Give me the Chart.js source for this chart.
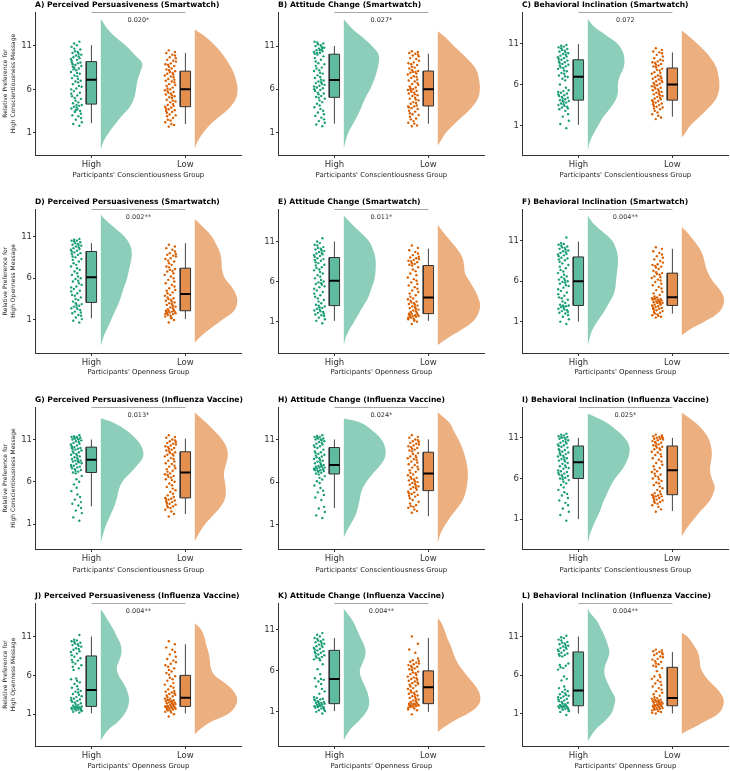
<!DOCTYPE html>
<html><head><meta charset="utf-8">
<script src="https://cdn.jsdelivr.net/npm/chart.js@4/dist/chart.umd.min.js"></script>
<style>
html,body{margin:0;padding:0;background:#fff;}
#wrap{position:relative;width:730px;height:771px;overflow:hidden;background:#fff;}
#wrap canvas{position:absolute;}
</style>
</head><body><div id="wrap"></div>
<script>
// ---------- categories / labels ----------
const groups = ['High', 'Low'];
const yTickValues = [1, 6, 11];
const panelTitles = [
  'A) Perceived Persuasiveness (Smartwatch)', 'B) Attitude Change (Smartwatch)', 'C) Behavioral Inclination (Smartwatch)',
  'D) Perceived Persuasiveness (Smartwatch)', 'E) Attitude Change (Smartwatch)', 'F) Behavioral Inclination (Smartwatch)',
  'G) Perceived Persuasiveness (Influenza Vaccine)', 'H) Attitude Change (Influenza Vaccine)', 'I) Behavioral Inclination (Influenza Vaccine)',
  'J) Perceived Persuasiveness (Influenza Vaccine)', 'K) Attitude Change (Influenza Vaccine)', 'L) Behavioral Inclination (Influenza Vaccine)'
];
const pLabels = ['0.020*', '0.027*', '0.072', '0.002**', '0.011*', '0.004**', '0.013*', '0.024*', '0.025*', '0.004**', '0.004**', '0.004**'];
const xTitles = ["Participants' Conscientiousness Group", "Participants' Openness Group"];
const yTitles = [['Relative Preference for', 'High Conscientiousness Message'], ['Relative Preference for', 'High Openness Message']];

// ---------- data: jittered observations ----------
const A_hi_pts = [1.8,2.0,2.2,2.5,2.7,2.9,3.0,3.2,3.4,3.5,3.7,3.8,3.9,4.0,4.1,4.2,4.2,3.6,4.4,4.5,4.7,4.9,5.0,5.2,5.3,5.5,5.6,5.8,6.0,6.1,6.3,6.4,6.6,6.8,6.9,7.0,7.2,7.3,7.5,7.6,7.8,7.9,8.0,8.2,8.3,8.4,8.6,8.7,8.8,8.9,9.0,9.1,9.1,8.5,9.3,9.4,9.5,9.6,9.7,9.8,9.9,10.0,10.1,10.2,10.3,10.4,10.6,10.7,10.9,11.1,11.3,11.5];
const A_lo_pts = [1.7,1.9,2.0,2.2,2.4,2.5,2.7,2.9,3.0,3.1,3.3,3.4,3.5,3.6,3.7,3.8,3.9,4.0,4.1,4.2,4.3,4.5,4.6,4.7,4.8,5.0,5.1,5.2,5.3,5.4,5.5,5.6,5.7,5.8,5.9,6.0,6.1,6.2,6.4,6.5,6.6,6.8,6.9,7.0,7.1,7.2,7.4,7.5,7.6,7.7,7.8,7.9,8.0,8.1,8.2,8.3,8.4,8.6,8.7,8.8,8.9,9.0,9.2,9.3,9.4,9.6,9.7,9.9,10.0,10.2,10.3,10.5];
const B_hi_pts = [1.7,1.9,2.1,2.3,2.5,2.7,2.9,3.1,3.3,3.5,3.7,3.9,4.1,4.3,4.5,4.7,4.9,5.0,5.1,5.2,5.4,5.5,5.6,5.8,5.9,6.0,6.1,6.2,6.3,6.4,6.5,6.6,6.7,6.8,6.9,7.0,7.1,7.3,7.4,7.6,7.8,7.9,8.1,8.2,8.4,8.5,8.7,8.9,9.0,9.2,9.4,9.6,9.8,10.0,10.1,10.2,10.3,10.4,10.5,10.6,10.7,10.8,10.9,11.0,11.1,11.2,11.3,11.4,11.5,10.5,10.2,10.8];
const B_lo_pts = [1.7,1.8,2.0,2.1,2.3,2.5,2.6,2.8,3.0,3.1,3.2,3.4,3.5,3.7,3.8,3.9,4.0,4.0,4.1,4.3,4.4,4.5,4.7,4.8,4.9,5.0,5.2,5.3,5.4,5.5,5.6,5.7,5.8,5.9,5.9,6.0,6.1,6.2,6.3,6.5,6.6,6.7,6.9,7.0,7.1,7.3,7.4,7.5,7.7,7.8,7.9,8.0,8.0,8.1,8.2,8.4,8.5,8.6,8.8,8.9,9.0,9.1,9.3,9.5,9.6,9.8,9.9,10.0,10.1,10.2,10.3,10.4];
const C_hi_pts = [0.7,1.2,1.6,2.1,2.4,2.8,3.0,3.1,3.2,3.3,3.4,3.5,3.6,3.7,3.8,3.9,4.0,4.0,4.1,4.2,4.3,4.4,4.5,4.6,4.7,4.8,4.9,5.0,5.1,5.2,5.3,5.6,6.0,6.5,6.7,6.9,7.0,7.1,7.3,7.4,7.6,7.7,7.9,8.0,8.1,8.2,8.3,8.4,8.5,8.6,8.7,8.8,8.9,9.0,9.1,9.2,9.3,9.4,9.5,9.6,9.7,9.8,9.9,10.0,10.1,10.2,10.3,10.4,10.5,10.6,10.7,10.8];
const C_lo_pts = [1.8,2.0,2.2,2.4,2.6,2.8,3.0,3.1,3.2,3.3,3.4,3.5,3.6,3.7,3.8,3.9,4.0,4.1,4.2,4.3,4.4,4.5,4.6,4.7,4.8,4.9,5.0,5.1,5.2,5.3,5.4,5.5,5.6,5.7,5.8,5.9,6.0,6.1,6.2,6.3,6.4,6.5,6.6,6.7,6.8,6.9,7.0,7.1,7.3,7.4,7.5,7.7,7.8,7.9,8.1,8.2,8.3,8.4,8.5,8.6,8.7,8.8,8.9,9.0,9.2,9.4,9.6,9.8,9.9,10.0,10.2,10.4];
const D_hi_pts = [0.7,0.9,1.1,1.3,1.5,1.6,1.8,1.9,2.0,2.2,2.3,2.4,2.5,2.6,2.7,2.8,2.9,3.0,3.2,3.4,3.5,3.7,3.9,4.0,4.2,4.4,4.5,4.7,4.9,5.0,5.2,5.4,5.6,5.7,5.9,6.0,6.2,6.4,6.6,6.8,7.0,7.2,7.4,7.6,7.8,8.0,8.2,8.3,8.5,8.6,8.8,8.9,9.0,9.1,9.2,9.3,9.4,9.5,9.6,9.7,9.8,9.9,10.0,10.0,10.1,10.2,10.3,10.4,10.5,10.5,10.6,10.7];
const D_lo_pts = [0.7,1.0,1.2,1.4,1.5,1.6,1.7,1.8,1.8,1.9,1.9,2.0,2.0,2.0,2.1,2.1,1.3,1.7,2.2,2.3,2.4,2.5,2.6,2.7,2.8,2.9,3.0,3.1,3.2,3.3,3.4,3.5,3.6,3.7,3.9,4.0,4.2,4.3,4.5,4.6,4.8,5.0,5.2,5.4,5.6,5.8,6.0,6.2,6.4,6.6,6.8,6.9,7.0,7.1,7.3,7.4,7.6,7.8,8.0,8.1,8.3,8.4,8.6,8.7,8.8,8.9,9.0,9.2,9.4,9.6,9.8,10.0];
const E_hi_pts = [0.8,1.1,1.3,1.5,1.7,1.8,1.9,2.0,2.1,2.2,2.3,2.4,2.5,2.6,2.7,2.8,2.9,3.0,3.1,3.3,3.5,3.7,3.9,4.1,4.3,4.5,4.7,4.9,5.1,5.3,5.4,5.6,5.7,5.8,5.9,6.0,6.2,6.4,6.6,6.8,7.0,7.2,7.4,7.5,7.7,7.8,8.0,8.1,8.3,8.4,8.6,8.7,8.8,8.9,9.1,9.2,9.3,9.4,9.5,9.6,9.7,9.8,9.9,10.0,10.1,10.2,10.3,10.5,10.6,10.8,11.0,11.4];
const E_lo_pts = [0.7,1.0,1.2,1.3,1.4,1.5,1.6,1.6,1.7,1.7,1.8,1.8,1.9,1.9,2.0,2.0,1.1,1.5,2.1,2.2,2.3,2.4,2.5,2.6,2.7,2.8,2.9,3.0,3.1,3.2,3.3,3.4,3.5,3.6,3.8,3.9,4.1,4.3,4.5,4.7,4.9,5.1,5.3,5.5,5.7,5.9,6.1,6.3,6.5,6.8,7.0,7.3,7.5,7.8,8.0,8.1,8.2,8.3,8.4,8.5,8.6,8.7,8.8,8.9,9.0,9.1,9.3,9.5,9.7,9.9,10.2,10.5];
const F_hi_pts = [0.7,1.0,1.3,1.6,1.8,2.0,2.1,2.2,2.3,2.4,2.5,2.6,2.7,2.8,2.9,2.9,3.0,3.0,3.1,3.3,3.5,3.7,3.9,4.0,4.2,4.4,4.6,4.8,5.0,5.2,5.4,5.5,5.7,5.8,5.9,6.0,6.1,6.2,6.3,6.5,6.6,6.8,7.0,7.2,7.4,7.6,7.8,8.0,8.2,8.4,8.6,8.7,8.8,8.9,9.1,9.2,9.3,9.4,9.5,9.6,9.7,9.8,9.9,10.0,10.1,10.2,10.3,10.4,10.5,10.6,10.7,11.4];
const F_lo_pts = [1.5,1.6,1.7,1.8,1.9,2.0,2.1,2.2,2.3,2.4,2.5,2.6,2.6,2.7,2.8,2.8,2.9,3.0,3.1,3.1,3.2,3.3,3.3,3.4,3.4,3.5,3.5,3.6,3.6,3.7,3.7,3.8,3.8,3.9,3.9,4.0,4.1,4.3,4.5,4.7,4.9,5.1,5.3,5.5,5.7,5.9,6.1,6.2,6.4,6.5,6.6,6.8,6.9,7.0,7.1,7.3,7.5,7.7,7.8,7.9,8.0,8.1,8.3,8.5,8.7,8.9,9.1,9.3,9.5,9.7,10.0,10.2];
const G_hi_pts = [1.4,1.8,2.3,2.6,2.9,3.2,3.4,3.6,3.9,4.2,4.5,4.9,5.3,5.7,6.0,6.3,6.7,7.0,7.1,7.2,7.3,7.4,7.5,7.6,7.7,7.8,7.8,7.9,8.0,8.1,8.2,8.3,8.4,8.4,8.5,8.5,8.6,8.7,8.8,8.9,9.0,9.1,9.2,9.3,9.4,9.5,9.6,9.7,9.8,9.9,9.9,10.0,10.0,10.1,10.2,10.3,10.4,10.5,10.6,10.7,10.8,10.9,11.0,11.0,11.1,11.1,11.2,11.2,11.3,11.3,11.4,11.5];
const G_lo_pts = [1.9,2.2,2.5,2.7,2.9,3.0,3.1,3.2,3.3,3.4,3.5,3.6,3.7,3.8,3.9,4.0,4.0,4.1,4.2,4.4,4.6,4.8,5.0,5.2,5.4,5.6,5.8,6.0,6.2,6.3,6.5,6.6,6.7,6.8,6.9,7.0,7.2,7.3,7.5,7.6,7.8,7.9,8.1,8.2,8.4,8.5,8.7,8.8,9.0,9.1,9.2,9.3,9.4,9.5,9.6,9.7,9.8,9.9,10.0,10.1,10.2,10.3,10.4,10.5,10.6,10.7,10.8,10.9,11.0,11.2,11.3,11.5];
const H_hi_pts = [1.8,2.1,2.5,2.9,3.1,3.9,4.2,4.5,4.8,5.0,5.3,5.6,5.9,6.1,6.3,6.5,6.7,6.9,7.0,7.1,7.2,7.3,7.3,7.4,7.4,7.5,7.5,7.6,7.6,7.7,7.7,7.8,7.8,7.9,7.9,8.0,8.1,8.2,8.3,8.4,8.5,8.6,8.7,8.8,8.9,9.0,9.1,9.2,9.3,9.4,9.5,9.6,9.8,10.0,10.1,10.2,10.3,10.4,10.5,10.6,10.7,10.8,10.9,11.0,11.0,11.1,11.1,11.2,11.3,11.3,11.4,11.5];
const H_lo_pts = [2.4,2.6,2.8,3.0,3.1,3.2,3.3,3.5,3.7,3.9,4.1,4.3,4.4,4.5,4.6,4.7,4.8,4.9,5.1,5.2,5.3,5.4,5.5,5.6,5.7,5.8,5.9,6.0,6.1,6.2,6.3,6.4,6.5,6.6,6.8,6.9,7.1,7.2,7.4,7.5,7.7,7.8,8.0,8.1,8.3,8.4,8.6,8.7,8.8,8.9,9.0,9.1,9.3,9.4,9.6,9.7,9.8,9.9,10.0,10.1,10.2,10.3,10.4,10.5,10.6,10.7,10.8,10.9,11.0,11.2,11.3,11.5];
const I_hi_pts = [0.8,1.5,1.9,2.3,2.7,3.0,3.3,3.6,3.9,4.1,4.3,4.6,4.9,5.2,5.4,5.6,5.8,5.9,6.0,6.1,6.2,6.3,6.4,6.5,6.6,6.7,6.8,6.9,7.0,7.2,7.3,7.4,7.5,7.6,7.8,7.9,8.1,8.2,8.3,8.4,8.5,8.6,8.7,8.8,8.9,9.0,9.1,9.2,9.3,9.4,9.5,9.6,9.8,9.9,10.0,10.1,10.2,10.3,10.4,10.5,10.6,10.7,10.8,10.9,11.0,11.0,11.1,11.1,11.2,11.3,11.4,11.5];
const I_lo_pts = [1.9,2.2,2.5,2.7,2.9,3.0,3.1,3.2,3.3,3.4,3.5,3.6,3.7,3.8,3.8,3.9,3.9,4.0,4.1,4.2,4.4,4.6,4.8,5.0,5.2,5.4,5.5,5.7,5.9,6.0,6.2,6.3,6.5,6.6,6.8,6.9,7.1,7.3,7.5,7.7,7.9,8.1,8.3,8.5,8.7,8.9,9.0,9.2,9.3,9.5,9.6,9.7,9.8,9.9,10.0,10.1,10.2,10.3,10.4,10.5,10.6,10.7,10.8,10.9,10.9,11.0,11.0,11.1,11.1,11.2,11.3,11.4];
const J_hi_pts = [1.2,1.3,1.4,1.5,1.5,1.6,1.6,1.7,1.7,1.8,1.8,1.8,1.9,1.9,1.9,2.0,2.0,2.0,2.1,2.2,2.3,2.4,2.5,2.6,2.7,2.8,2.9,3.0,3.1,3.2,3.3,3.5,3.6,3.8,3.9,4.0,4.2,4.4,4.6,4.9,5.1,5.3,5.5,5.6,6.7,6.9,7.1,7.3,7.5,7.7,7.9,8.0,8.2,8.4,8.6,8.8,9.0,9.1,9.3,9.4,9.5,9.7,9.8,9.9,10.0,10.1,10.2,10.3,10.4,10.5,10.6,11.2];
const J_lo_pts = [0.7,1.0,1.2,1.3,1.4,1.5,1.6,1.6,1.7,1.7,1.8,1.8,1.9,1.9,1.9,2.0,2.0,2.0,2.1,2.1,2.2,2.2,2.3,2.3,2.4,2.4,2.5,2.5,2.6,2.7,2.7,2.8,2.8,2.9,3.0,3.0,3.2,3.3,3.4,3.5,3.6,3.7,3.8,3.9,4.0,4.2,4.4,4.6,4.8,5.0,5.3,5.5,5.7,5.9,6.1,6.3,6.5,6.7,6.9,7.1,7.3,7.5,7.7,7.9,8.1,8.4,8.7,9.0,9.3,9.6,10.0,10.4];
const K_hi_pts = [0.8,1.0,1.1,1.2,1.3,1.4,1.5,1.5,1.6,1.6,1.7,1.7,1.8,1.8,1.9,1.9,2.0,2.0,2.1,2.1,2.2,2.2,2.3,2.4,2.5,2.5,2.6,2.7,2.8,3.2,3.5,3.8,4.1,4.4,4.7,4.9,5.0,5.1,5.6,6.2,6.8,7.3,7.4,7.5,7.6,7.7,7.8,7.9,8.0,8.1,8.2,8.3,8.4,8.5,8.6,8.7,8.8,8.9,9.0,9.1,9.2,9.3,9.4,9.5,9.6,9.7,9.8,9.9,10.0,10.2,10.4,10.6];
const K_lo_pts = [0.7,1.2,1.4,1.5,1.6,1.6,1.7,1.7,1.8,1.8,1.8,1.9,1.9,1.9,2.0,2.0,2.0,1.3,2.1,2.2,2.3,2.4,2.5,2.6,2.7,2.8,2.9,3.0,3.1,3.2,3.3,3.4,3.5,3.6,3.8,3.9,4.1,4.2,4.3,4.4,4.5,4.6,4.7,4.8,4.9,5.0,5.1,5.2,5.3,5.5,5.6,5.7,5.8,5.9,6.1,6.2,6.3,6.4,6.5,6.6,6.7,6.8,6.9,7.0,7.1,7.2,7.3,7.5,8.2,8.6,9.3,10.2];
const L_hi_pts = [0.8,1.2,1.4,1.5,1.6,1.6,1.7,1.7,1.8,1.8,1.9,1.9,1.9,2.0,2.0,2.0,1.3,1.5,2.1,2.2,2.3,2.4,2.5,2.6,2.7,2.8,2.9,3.0,3.1,3.2,3.3,3.4,3.5,3.6,3.8,3.9,4.1,4.3,4.5,5.3,5.5,5.8,6.7,6.9,7.0,7.2,7.3,7.5,8.4,8.5,8.6,8.7,8.8,8.9,9.1,9.2,9.3,9.4,9.5,9.6,9.7,9.8,9.9,10.0,10.1,10.2,10.3,10.5,10.6,10.8,10.9,11.1];
const L_lo_pts = [1.0,1.2,1.3,1.4,1.5,1.5,1.6,1.6,1.7,1.7,1.8,1.8,1.9,1.9,2.0,2.0,2.0,1.1,2.1,2.1,2.2,2.2,2.3,2.3,2.4,2.4,2.5,2.5,2.6,2.6,2.7,2.7,2.8,2.8,2.9,3.0,3.1,3.3,3.5,3.7,3.9,4.1,4.3,4.5,4.7,4.9,5.1,5.3,5.5,5.7,5.8,6.0,6.5,6.9,7.1,7.2,7.4,7.5,7.7,7.8,8.0,8.1,8.3,8.4,8.6,8.7,8.8,8.9,9.0,9.1,9.2,9.3];

// ---------- data: box statistics [lower whisker, Q1, median, Q3, upper whisker] ----------
const A_hi_box = [2.1, 4.3, 7.1, 9.2, 11.1];
const A_lo_box = [2.0, 4.0, 6.0, 8.1, 10.2];
const B_hi_box = [2.0, 5.05, 7.05, 10.05, 11.0];
const B_lo_box = [2.0, 4.05, 6.0, 8.1, 10.1];
const C_hi_box = [1.1, 4.1, 6.95, 9.0, 10.9];
const C_lo_box = [2.1, 4.1, 6.0, 8.0, 9.9];
const D_hi_box = [1.2, 3.1, 6.1, 9.2, 10.2];
const D_lo_box = [1.1, 2.1, 4.1, 7.2, 10.2];
const E_hi_box = [1.1, 3.0, 6.1, 9.0, 11.0];
const E_lo_box = [1.1, 2.0, 4.0, 8.0, 10.1];
const F_hi_box = [1.0, 3.0, 6.0, 9.0, 10.9];
const F_lo_box = [2.0, 3.0, 4.0, 7.0, 10.0];
const G_hi_box = [3.1, 7.1, 8.6, 10.1, 11.0];
const G_lo_box = [2.2, 4.1, 7.1, 9.55, 11.1];
const H_hi_box = [2.95, 6.95, 8.0, 10.05, 11.0];
const H_lo_box = [2.0, 5.0, 7.0, 9.5, 11.0];
const I_hi_box = [1.0, 6.0, 8.0, 10.0, 11.0];
const I_lo_box = [2.0, 4.0, 7.0, 10.0, 11.0];
const J_hi_box = [1.1, 2.0, 4.1, 8.5, 11.0];
const J_lo_box = [1.1, 2.0, 3.1, 6.0, 10.0];
const K_hi_box = [1.1, 2.0, 5.0, 8.5, 10.0];
const K_lo_box = [1.0, 2.0, 4.0, 6.0, 10.0];
const L_hi_box = [1.0, 2.0, 4.0, 9.0, 11.0];
const L_lo_box = [1.0, 2.0, 3.0, 7.0, 9.0];

// ---------- data: half-violin density profile [value, relative width] ----------
const A_hi_vio = [[14.1,0],[13,0.07],[12,0.16],[11,0.27],[10,0.36],[9,0.44],[8,0.42],[7,0.39],[6,0.375],[5,0.355],[4,0.31],[3,0.23],[2,0.155],[1,0.085],[0,0.03],[-0.95,0]];
const A_lo_vio = [[12.9,0],[12,0.12],[11,0.22],[10,0.3],[9,0.36],[8,0.41],[7,0.44],[6,0.455],[5,0.44],[4,0.38],[3,0.28],[2,0.17],[1,0.09],[0,0.03],[-0.75,0]];
const B_hi_vio = [[14.1,0],[13,0.09],[12,0.2],[11,0.3],[10,0.37],[9,0.37],[8,0.35],[7,0.32],[6,0.28],[5,0.23],[4,0.19],[3,0.15],[2,0.1],[1,0.05],[0,0.02],[-0.9,0]];
const B_lo_vio = [[12.7,0],[12,0.08],[11,0.17],[10,0.27],[9,0.36],[8,0.42],[7,0.44],[6,0.447],[5,0.43],[4,0.37],[3,0.28],[2,0.18],[1,0.09],[0,0.03],[-0.5,0]];
const C_hi_vio = [[13.96,0],[13,0.07],[12,0.19],[11,0.31],[10,0.37],[9,0.39],[8,0.38],[7,0.34],[6,0.32],[5,0.32],[4,0.29],[3,0.23],[2,0.16],[1,0.11],[0,0.06],[-1,0.02],[-1.96,0]];
const C_lo_vio = [[12.54,0],[12,0.06],[11,0.16],[10,0.25],[9,0.32],[8,0.37],[7,0.39],[6,0.4],[5,0.39],[4,0.35],[3,0.27],[2,0.18],[1,0.09],[0,0.03],[-0.42,0]];
const D_hi_vio = [[13.6,0],[13,0.05],[12,0.15],[11,0.25],[10,0.31],[9,0.33],[8,0.32],[7,0.3],[6,0.28],[5,0.25],[4,0.22],[3,0.19],[2,0.15],[1,0.11],[0,0.07],[-1,0.03],[-2.1,0]];
const D_lo_vio = [[13.1,0],[12,0.1],[11,0.18],[10,0.23],[9,0.27],[8,0.285],[7,0.29],[6,0.32],[5,0.39],[4,0.44],[3,0.45],[2,0.41],[1,0.29],[0,0.17],[-1,0.06],[-1.7,0]];
const E_hi_vio = [[14.2,0],[13,0.1],[12,0.19],[11,0.27],[10,0.31],[9,0.335],[8,0.34],[7,0.335],[6,0.32],[5,0.29],[4,0.26],[3,0.21],[2,0.16],[1,0.11],[0,0.06],[-1,0.02],[-2,0]];
const E_lo_vio = [[13.1,0],[12,0.07],[11,0.14],[10,0.21],[9,0.26],[8,0.28],[7,0.29],[6,0.34],[5,0.39],[4,0.43],[3,0.45],[2,0.43],[1,0.37],[0,0.25],[-1,0.11],[-1.9,0]];
const F_hi_vio = [[14.1,0],[13,0.07],[12,0.17],[11,0.26],[10,0.3],[9,0.32],[8,0.32],[7,0.31],[6,0.3],[5,0.29],[4,0.26],[3,0.21],[2,0.16],[1,0.1],[0,0.05],[-1,0.02],[-2,0]];
const F_lo_vio = [[12.7,0],[12,0.06],[11,0.13],[10,0.19],[9,0.23],[8,0.25],[7,0.28],[6,0.33],[5,0.4],[4,0.445],[3,0.44],[2,0.38],[1,0.24],[0,0.08],[-0.7,0]];
const G_hi_vio = [[13.5,0],[13,0.13],[12,0.28],[11,0.38],[10,0.44],[9,0.45],[8,0.39],[7,0.31],[6,0.23],[5,0.19],[4,0.17],[3,0.14],[2,0.1],[1,0.06],[0,0.03],[-1.2,0]];
const G_lo_vio = [[14.2,0],[13,0.12],[12,0.21],[11,0.29],[10,0.34],[9,0.35],[8,0.33],[7,0.31],[6,0.32],[5,0.33],[4,0.32],[3,0.27],[2,0.19],[1,0.11],[0,0.05],[-1,0]];
const H_hi_vio = [[13.45,0],[13,0.17],[12,0.31],[11,0.4],[10,0.44],[9,0.44],[8,0.39],[7,0.31],[6,0.24],[5,0.19],[4,0.17],[3,0.15],[2,0.12],[1,0.07],[0,0.02],[-0.56,0]];
const H_lo_vio = [[14.15,0],[13,0.12],[12,0.17],[11,0.22],[10,0.26],[9,0.29],[8,0.31],[7,0.32],[6,0.315],[5,0.3],[4,0.27],[3,0.21],[2,0.14],[1,0.08],[0,0.03],[-1.14,0]];
const I_hi_vio = [[14,0],[13,0.18],[12,0.3],[11,0.39],[10,0.44],[9,0.44],[8,0.41],[7,0.36],[6,0.29],[5,0.24],[4,0.2],[3,0.16],[2,0.13],[1,0.09],[0,0.05],[-1,0.02],[-1.94,0]];
const I_lo_vio = [[14.1,0],[13,0.13],[12,0.22],[11,0.28],[10,0.31],[9,0.32],[8,0.31],[7,0.3],[6,0.32],[5,0.35],[4,0.33],[3,0.28],[2,0.2],[1,0.13],[0,0.06],[-1.1,0]];
const J_hi_vio = [[14.5,0],[14,0.03],[13,0.08],[12,0.13],[11,0.17],[10,0.21],[9,0.22],[8,0.2],[7,0.17],[6,0.19],[5,0.24],[4,0.28],[3,0.3],[2,0.29],[1,0.25],[0,0.18],[-1,0.08],[-2,0.02],[-2.4,0]];
const J_lo_vio = [[12.7,0],[12,0.06],[11,0.1],[10,0.12],[9,0.145],[8,0.16],[7,0.17],[6,0.21],[5,0.32],[4,0.41],[3,0.45],[2,0.43],[1,0.35],[0,0.17],[-1,0.05],[-1.6,0]];
const K_hi_vio = [[13.5,0],[13,0.04],[12,0.1],[11,0.14],[10,0.18],[9,0.22],[8,0.23],[7,0.2],[6,0.17],[5,0.19],[4,0.23],[3,0.26],[2,0.27],[1,0.24],[0,0.17],[-1,0.08],[-2,0.02],[-2.47,0]];
const K_lo_vio = [[12.4,0],[12,0.03],[11,0.07],[10,0.1],[9,0.14],[8,0.17],[7,0.21],[6,0.27],[5,0.34],[4,0.41],[3,0.45],[2,0.44],[1,0.35],[0,0.19],[-1,0.05],[-1.45,0]];
const L_hi_vio = [[14.6,0],[14,0.03],[13,0.1],[12,0.14],[11,0.18],[10,0.21],[9,0.23],[8,0.21],[7,0.18],[6,0.18],[5,0.21],[4,0.25],[3,0.29],[2,0.28],[1,0.25],[0,0.18],[-1,0.09],[-2,0.03],[-2.56,0]];
const L_lo_vio = [[11.5,0],[11,0.06],[10,0.12],[9,0.17],[8,0.19],[7,0.2],[6,0.24],[5,0.31],[4,0.39],[3,0.44],[2,0.44],[1,0.39],[0,0.25],[-1,0.1],[-1.6,0]];

// ---------- axis ranges per panel ----------
const yRanges = [[-1.57,14.92],[-1.63,14.94],[-2.56,14.8],[-2.96,14.29],[-2.91,15.05],[-2.88,14.93],[-1.94,14.84],[-1.84,14.8],[-2.68,14.8],[-3.1,15.32],[-3.16,14.27],[-3.23,15.36]];

// ---------- table built from the arrays ----------
const panelGroups = [
  [[A_hi_pts, A_hi_box, A_hi_vio], [A_lo_pts, A_lo_box, A_lo_vio]],
  [[B_hi_pts, B_hi_box, B_hi_vio], [B_lo_pts, B_lo_box, B_lo_vio]],
  [[C_hi_pts, C_hi_box, C_hi_vio], [C_lo_pts, C_lo_box, C_lo_vio]],
  [[D_hi_pts, D_hi_box, D_hi_vio], [D_lo_pts, D_lo_box, D_lo_vio]],
  [[E_hi_pts, E_hi_box, E_hi_vio], [E_lo_pts, E_lo_box, E_lo_vio]],
  [[F_hi_pts, F_hi_box, F_hi_vio], [F_lo_pts, F_lo_box, F_lo_vio]],
  [[G_hi_pts, G_hi_box, G_hi_vio], [G_lo_pts, G_lo_box, G_lo_vio]],
  [[H_hi_pts, H_hi_box, H_hi_vio], [H_lo_pts, H_lo_box, H_lo_vio]],
  [[I_hi_pts, I_hi_box, I_hi_vio], [I_lo_pts, I_lo_box, I_lo_vio]],
  [[J_hi_pts, J_hi_box, J_hi_vio], [J_lo_pts, J_lo_box, J_lo_vio]],
  [[K_hi_pts, K_hi_box, K_hi_vio], [K_lo_pts, K_lo_box, K_lo_vio]],
  [[L_hi_pts, L_hi_box, L_hi_vio], [L_lo_pts, L_lo_box, L_lo_vio]]
];

// ---------- styles & geometry ----------
const palette = [
  {pt: '#1B9E77', box: '#5FBBA0', violin: '#8DCEBB'},
  {pt: '#D95F02', box: '#E48F4E', violin: '#ECAF80'}
];
const colLeft = [0, 243, 487];
const rowTop = [0, 197, 395, 591];
const plotH = [143, 144, 142, 143];
const CW = 243, CH = 179, PAD_TOP = 12, Y_AXIS_W = 35;
const VIOLIN_GAP = 0.1, BOX_HW = 0.055, PT_OFF = 0.16, PT_SPREAD = 0.12;

Chart.defaults.font.family = '"DejaVu Sans", sans-serif';

function jitter(i, g) {
  const h = Math.imul(i + 1 + g * 1013, 2654435761) >>> 0;
  return (h % 1000) / 999 - 0.5;
}

function groupDatasets(g, grp) {
  const [pts, box, vio] = grp;
  const c = g + 1;
  const col = palette[g];
  const vx = c + VIOLIN_GAP;
  const [mn, q1, md, q3, mx] = box;
  return [
    {type: 'line', data: vio.map(([y, w]) => ({x: vx + w, y})), fill: 'shape', backgroundColor: col.violin,
     borderWidth: 0, pointRadius: 0, tension: 0.4, order: 10},
    {type: 'line', data: [{x: c, y: mn}, {x: c, y: mx}], borderColor: '#444', borderWidth: 1, pointRadius: 0, fill: false, order: 9},
    {type: 'line', data: [{x: c - BOX_HW, y: q1}, {x: c + BOX_HW, y: q1}, {x: c + BOX_HW, y: q3}, {x: c - BOX_HW, y: q3}, {x: c - BOX_HW, y: q1}],
     fill: 'shape', backgroundColor: col.box, borderColor: '#333', borderWidth: 1, pointRadius: 0, tension: 0, order: 8},
    {type: 'line', data: [{x: c - BOX_HW, y: md}, {x: c + BOX_HW, y: md}], borderColor: '#000', borderWidth: 2, pointRadius: 0, fill: false, order: 7},
    {type: 'scatter', data: pts.map((y, i) => ({x: c - PT_OFF + jitter(i, g) * PT_SPREAD, y})),
     pointBackgroundColor: col.pt, pointBorderWidth: 0, pointRadius: 1.2, pointHoverRadius: 0, order: 6}
  ];
}

const annot = {
  id: 'annot',
  afterDraw(chart, args, opts) {
    const {ctx, chartArea} = chart;
    const xs = chart.scales.x;
    ctx.save();
    ctx.fillStyle = '#000';
    ctx.font = 'bold 7.6px "DejaVu Sans"';
    ctx.textAlign = 'left';
    ctx.textBaseline = 'middle';
    ctx.fillText(opts.title, chartArea.left, chartArea.top - 7);
    ctx.fillStyle = '#333';
    ctx.font = '6.5px "DejaVu Sans"';
    ctx.textAlign = 'center';
    ctx.fillText(opts.p, xs.getPixelForValue(1.5), chartArea.top + 8.2);
    ctx.restore();
  }
};

const wrap = document.getElementById('wrap');
panelGroups.forEach((pg, k) => {
  const r = Math.floor(k / 3), c = k % 3;
  const trait = r % 2;
  const cv = document.createElement('canvas');
  cv.width = CW; cv.height = CH;
  cv.style.left = colLeft[c] + 'px';
  cv.style.top = rowTop[r] + 'px';
  cv.style.width = CW + 'px';
  cv.style.height = CH + 'px';
  wrap.appendChild(cv);
  const [ymin, ymax] = yRanges[k];
  const xAxisH = CH - PAD_TOP - plotH[r];
  const datasets = [];
  pg.forEach((grp, g) => datasets.push(...groupDatasets(g, grp)));
  datasets.push({type: 'line', data: [{x: 1, y: ymax - 0.06}, {x: 2, y: ymax - 0.06}], borderColor: '#A6A6A6', borderWidth: 1, pointRadius: 0, fill: false, order: 4});
  const axisBorder = {display: true, color: '#333', width: 1};
  new Chart(cv, {
    type: 'line',
    data: {datasets},
    plugins: [annot],
    options: {
      responsive: false, animation: false, devicePixelRatio: 1, events: [],
      layout: {padding: {top: PAD_TOP, left: 0, right: 1, bottom: 0}},
      plugins: {legend: {display: false}, tooltip: {enabled: false}, annot: {title: panelTitles[k], p: pLabels[k]}},
      scales: {
        x: {
          type: 'linear', min: 0.4, max: 2.6,
          afterBuildTicks: s => { s.ticks = groups.map((_, i) => ({value: i + 1})); },
          afterFit: s => { s.height = xAxisH; },
          ticks: {callback: (v, i) => groups[i], color: '#333', font: {size: 8.5}, padding: 1.8, autoSkip: false, maxRotation: 0},
          grid: {display: true, drawOnChartArea: false, drawTicks: true, tickLength: 3, color: '#333', lineWidth: 1},
          border: axisBorder,
          title: {display: true, text: xTitles[trait], color: '#222', font: {size: 6.9}, padding: {top: 0, bottom: 0}}
        },
        y: {
          type: 'linear', min: ymin, max: ymax,
          afterBuildTicks: s => { s.ticks = yTickValues.map(v => ({value: v})); },
          afterFit: s => { s.width = Y_AXIS_W; },
          ticks: {callback: v => String(v), color: '#333', font: {size: 8.5}, padding: 1},
          grid: {display: true, drawOnChartArea: false, drawTicks: true, tickLength: 2, color: '#333', lineWidth: 1},
          border: axisBorder,
          title: c === 0 ? {display: true, text: yTitles[trait], color: '#222', font: {size: 6.0, lineHeight: '7.3px'}, padding: {top: 2, bottom: 0}} : {display: false}
        }
      }
    }
  });
});
</script>
</body></html>
